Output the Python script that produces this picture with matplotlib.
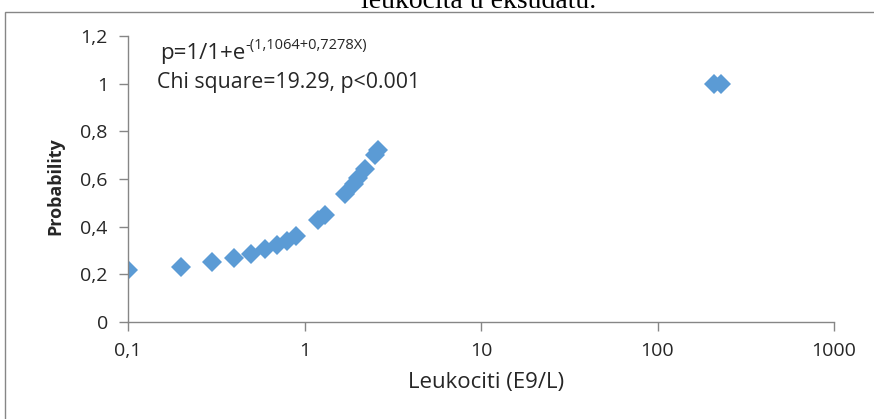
import numpy as np
import matplotlib
matplotlib.use('Agg')
import matplotlib.pyplot as plt
from matplotlib.patches import Rectangle
from matplotlib.ticker import FixedLocator, NullLocator

# Leukocyte count (E9/L) vs. predicted probability
leukociti = [0.1, 0.2, 0.3, 0.4, 0.5, 0.6, 0.7, 0.8, 0.9,
             1.2, 1.3, 1.7, 1.9, 2.0, 2.2, 2.5, 2.6, 210, 230]
probability = [0.218, 0.231, 0.252, 0.269, 0.286, 0.307, 0.324, 0.340, 0.361,
               0.429, 0.450, 0.538, 0.580, 0.605, 0.643, 0.700, 0.720, 1.0, 1.0]

x_ticks = [0.1, 1, 10, 100, 1000]
x_tick_labels = ['0,1', '1', '10', '100', '1000']
y_ticks = [0, 0.2, 0.4, 0.6, 0.8, 1.0, 1.2]
y_tick_labels = ['0', '0,2', '0,4', '0,6', '0,8', '1', '1,2']

formula = 'p=1/1+e'
formula_exp = '-(1,1064+0,7278X)'
stats_text = 'Chi square=19.29, p<0.001'
title = 'leukocita u eksudatu.'

plt.rcParams['font.family'] = ['Open Sans', 'DejaVu Sans']

fig = plt.figure(figsize=(8.74, 4.19), dpi=100)
ax = fig.add_axes([128/874, 1 - 322/419, (834 - 128)/874, (322 - 36)/419])

ax.plot(leukociti, probability, linestyle='none', marker='D', markersize=10,
        color='#5B9BD5', markeredgewidth=0)

ax.set_xscale('log')
ax.set_xlim(0.1, 1000)
ax.set_ylim(0, 1.2)
ax.xaxis.set_major_locator(FixedLocator(x_ticks))
ax.xaxis.set_minor_locator(NullLocator())
ax.set_xticklabels(x_tick_labels)
ax.set_yticks(y_ticks)
ax.set_yticklabels(y_tick_labels)

for side in ['top', 'right']:
    ax.spines[side].set_visible(False)
for side in ['left', 'bottom']:
    ax.spines[side].set_color('#868686')
    ax.spines[side].set_linewidth(1)
ax.tick_params(axis='both', color='#868686', length=6.5, width=1,
               labelsize=14, labelcolor='#262626')
ax.tick_params(axis='x', pad=8)
ax.tick_params(axis='y', pad=8)

ax.set_xlabel('Leukociti (E9/L)', fontsize=16, color='#262626', va='center')
ax.xaxis.set_label_coords(0.507, -0.213)
ax.set_ylabel('Probability', fontsize=13, fontweight='bold', color='#262626',
              va='center')
ax.yaxis.set_label_coords(-0.103, 0.476)

t1 = ax.text(0.045, 0.938, formula, transform=ax.transAxes, fontsize=16,
             color='#262626', va='center', ha='left')
ax.annotate(formula_exp, xy=(1, 0.55), xycoords=t1, fontsize=10.5,
            color='#262626', va='bottom', ha='left')
ax.text(0.041, 0.836, stats_text, transform=ax.transAxes, fontsize=15.3,
        color='#262626', va='center', ha='left')

# chart border and clipped caption above it
fig.patches.append(Rectangle((5/874, -0.1), 1.2, 1.1 - 12/419,
                             transform=fig.transFigure, fill=False,
                             edgecolor='#868686', linewidth=1))
fig.text(0.548, 1 - 8/419, title, ha='center', va='baseline', fontsize=20,
         family='Liberation Serif', color='black')

fig.savefig('out.png', dpi=100)
